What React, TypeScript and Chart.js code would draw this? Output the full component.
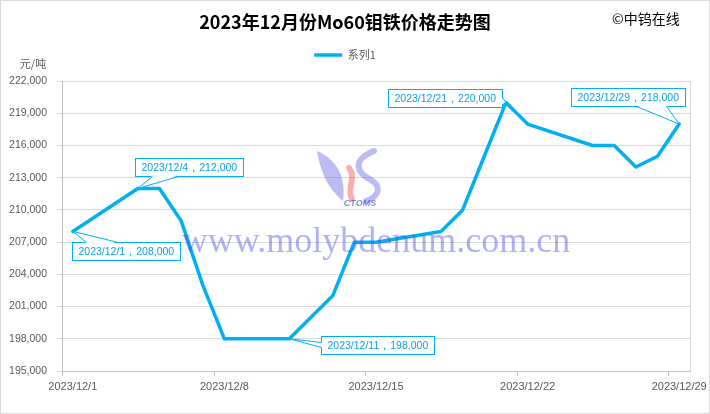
import React, { useEffect, useRef } from 'react';
import { Chart, registerables, layouts } from 'chart.js';

Chart.register(...registerables);

// ---- data ----
const dates = [
  '2023/12/1', '2023/12/4', '2023/12/5', '2023/12/6', '2023/12/7', '2023/12/8',
  '2023/12/11', '2023/12/12', '2023/12/13', '2023/12/14', '2023/12/15',
  '2023/12/18', '2023/12/19', '2023/12/20', '2023/12/21', '2023/12/22',
  '2023/12/25', '2023/12/26', '2023/12/27', '2023/12/28', '2023/12/29',
];
const prices = [
  208000, 212000, 212000, 209000, 203000, 198000,
  198000, 200000, 202000, 207000, 207000,
  208000, 210000, 215000, 220000, 218000,
  216000, 216000, 214000, 215000, 218000,
];
const seriesName = '系列1';
const xTickDays = [1, 8, 15, 22, 29];
const yMin = 195000;
const yMax = 222000;
const yStep = 3000;
const titleText = '2023年12月份Mo60钼铁价格走势图';
const copyrightText = '©中钨在线';
const unitText = '元/吨';
const watermarkText = 'www.molybdenum.com.cn';
const labelledDates = ['2023/12/1', '2023/12/4', '2023/12/11', '2023/12/21', '2023/12/29'];

// callout placement relative to the data point (layout only)
const calloutLayout: Record<string, { dx: number; dy: number; tail: string; b0: number; b1: number }> = {
  '2023/12/1': { dx: -1, dy: 11, tail: 'top', b0: 14, b1: 46 },
  '2023/12/4': { dx: -3, dy: -30, tail: 'bottom', b0: 17, b1: 43 },
  '2023/12/11': { dx: 32, dy: -3, tail: 'left', b0: 6, b1: 11 },
  '2023/12/21': { dx: -118, dy: -14, tail: 'right', b0: 8, b1: 15 },
  '2023/12/29': { dx: -108, dy: -36, tail: 'bottom', b0: 65, b1: 95 },
};

const dayOf = (d: string) => parseInt(d.split('/')[2], 10);
const fmt = (v: number) => v.toLocaleString('en-US');

const LINE_COLOR = '#00b0f0';
const LABEL_FONT = "'Liberation Sans', Arial, sans-serif";
const CJK_FONT = "'Noto Sans CJK SC', 'Noto Sans', sans-serif";

// empty layout box that keeps a gap between the legend and the plot area
const spacerPlugin = {
  id: 'legendSpacer',
  beforeInit(chart: any) {
    const box: any = {
      position: 'top',
      weight: 0,
      fullSize: true,
      options: {},
      left: 0, top: 0, right: 0, bottom: 0, width: 0, height: 0,
      isHorizontal() { return true; },
      update(maxWidth: number) {
        this.width = maxWidth;
        this.height = 10.5;
        this.left = 0;
        this.right = maxWidth;
      },
      draw() {},
    };
    layouts.addBox(chart, box);
  },
};

const decorPlugin = {
  id: 'decor',
  beforeDraw(chart: any) {
    const { ctx, width, height } = chart;
    ctx.save();
    ctx.fillStyle = '#ffffff';
    ctx.fillRect(0, 0, width, height);
    ctx.restore();
  },
  beforeDatasetsDraw(chart: any) {
    const { ctx, chartArea } = chart;
    const xs = chart.scales.x;
    ctx.save();
    ctx.strokeStyle = '#d9d9d9';
    ctx.lineWidth = 1;
    ctx.beginPath();
    ctx.moveTo(Math.round(chartArea.right) + 0.5, chartArea.top);
    ctx.lineTo(Math.round(chartArea.right) + 0.5, chartArea.bottom);
    ctx.stroke();
    // x tick marks sit on the boundaries between date slots
    ctx.strokeStyle = '#bfbfbf';
    ctx.beginPath();
    xTickDays.forEach((d) => {
      const x = Math.round(xs.getPixelForValue(d - 0.5)) + 0.5;
      ctx.moveTo(x, chartArea.bottom);
      ctx.lineTo(x, chartArea.bottom + 5);
    });
    ctx.stroke();
    ctx.restore();
  },
  afterDatasetsDraw(chart: any) {
    const { ctx } = chart;
    ctx.save();
    // logo
    ctx.fillStyle = 'rgba(95,95,225,0.42)';
    ctx.beginPath();
    ctx.moveTo(317, 151);
    ctx.bezierCurveTo(338, 160, 346, 178, 343, 201);
    ctx.bezierCurveTo(330, 190, 322, 178, 317, 151);
    ctx.closePath();
    ctx.fill();
    ctx.strokeStyle = 'rgba(95,95,225,0.42)';
    ctx.lineWidth = 6;
    ctx.lineCap = 'round';
    ctx.beginPath();
    ctx.moveTo(374, 151);
    ctx.bezierCurveTo(352, 160, 356, 172, 371, 180);
    ctx.bezierCurveTo(383, 187, 378, 197, 366, 201);
    ctx.stroke();
    ctx.strokeStyle = 'rgba(240,110,110,0.55)';
    ctx.lineWidth = 6;
    ctx.beginPath();
    ctx.moveTo(349, 168);
    ctx.bezierCurveTo(357, 178, 346, 188, 352, 199);
    ctx.stroke();
    ctx.fillStyle = 'rgba(70,90,220,0.7)';
    ctx.font = `italic bold 9px ${LABEL_FONT}`;
    ctx.textAlign = 'center';
    ctx.textBaseline = 'middle';
    ctx.fillText('CTOMS', 360, 204);
    // watermark text
    ctx.fillStyle = 'rgba(80,80,230,0.45)';
    ctx.font = `36px 'Liberation Serif', 'DejaVu Serif', serif`;
    ctx.textAlign = 'center';
    ctx.textBaseline = 'alphabetic';
    ctx.fillText(watermarkText, 376, 252);
    ctx.restore();
  },
  afterDraw(chart: any) {
    const { ctx, width, height } = chart;
    ctx.save();
    ctx.fillStyle = '#000000';
    ctx.font = `14px ${CJK_FONT}`;
    ctx.textAlign = 'left';
    ctx.textBaseline = 'middle';
    ctx.fillText(copyrightText, 612, 19);
    ctx.fillStyle = '#595959';
    ctx.font = `11px ${CJK_FONT}`;
    ctx.textAlign = 'center';
    ctx.fillText(unitText, 33, 64);
    ctx.strokeStyle = '#d9d9d9';
    ctx.lineWidth = 1;
    ctx.strokeRect(0.5, 0.5, width - 1, height - 1);
    ctx.restore();
  },
};

const calloutPlugin = {
  id: 'callouts',
  afterDatasetsDraw(chart: any) {
    const { ctx } = chart;
    const xs = chart.scales.x;
    const ys = chart.scales.y;
    ctx.save();
    ctx.font = `10.5px ${LABEL_FONT}`;
    labelledDates.forEach((d) => {
      const i = dates.indexOf(d);
      const lay = calloutLayout[d];
      if (i < 0 || !lay) return;
      const px = xs.getPixelForValue(dayOf(d));
      const py = ys.getPixelForValue(prices[i]);
      const text = `${dates[i]}，${fmt(prices[i])}`;
      const w = Math.round(ctx.measureText(text).width + 12);
      const h = 18;
      const bx = Math.round(px + lay.dx) + 0.5;
      const by = Math.round(py + lay.dy) + 0.5;
      let p0: number[];
      let p1: number[];
      let q0: number[];
      let q1: number[];
      if (lay.tail === 'top') {
        p0 = [bx + lay.b0, by]; p1 = [bx + lay.b1, by];
        q0 = [bx + lay.b0, by + 1]; q1 = [bx + lay.b1, by + 1];
      } else if (lay.tail === 'bottom') {
        p0 = [bx + lay.b0, by + h]; p1 = [bx + lay.b1, by + h];
        q0 = [bx + lay.b0, by + h - 1]; q1 = [bx + lay.b1, by + h - 1];
      } else if (lay.tail === 'left') {
        p0 = [bx, by + lay.b0]; p1 = [bx, by + lay.b1];
        q0 = [bx + 1, by + lay.b0]; q1 = [bx + 1, by + lay.b1];
      } else {
        p0 = [bx + w, by + lay.b0]; p1 = [bx + w, by + lay.b1];
        q0 = [bx + w - 1, by + lay.b0]; q1 = [bx + w - 1, by + lay.b1];
      }
      ctx.fillStyle = '#ffffff';
      ctx.strokeStyle = LINE_COLOR;
      ctx.lineWidth = 1;
      ctx.fillRect(bx, by, w, h);
      ctx.strokeRect(bx, by, w, h);
      ctx.beginPath();
      ctx.moveTo(q0[0], q0[1]);
      ctx.lineTo(px, py);
      ctx.lineTo(q1[0], q1[1]);
      ctx.closePath();
      ctx.fill();
      ctx.beginPath();
      ctx.moveTo(p0[0], p0[1]);
      ctx.lineTo(px, py);
      ctx.lineTo(p1[0], p1[1]);
      ctx.stroke();
      ctx.fillStyle = '#0aa2e2';
      ctx.textAlign = 'left';
      ctx.textBaseline = 'middle';
      ctx.fillText(text, bx + 6, by + h / 2 + 0.5);
    });
    ctx.restore();
  },
};

export default function App() {
  const ref = useRef<HTMLCanvasElement>(null);
  useEffect(() => {
    document.body.style.margin = '0';
    const canvas = ref.current;
    if (!canvas) return;
    Chart.defaults.font.family = LABEL_FONT;
    const chart = new Chart(canvas, {
      type: 'line',
      data: {
        datasets: [
          {
            label: seriesName,
            data: dates.map((d, i) => ({ x: dayOf(d), y: prices[i] })),
            borderColor: LINE_COLOR,
            backgroundColor: LINE_COLOR,
            borderWidth: 3.5,
            pointRadius: 0,
            pointHoverRadius: 0,
            tension: 0,
            borderJoinStyle: 'round',
            borderCapStyle: 'round',
            fill: false,
          },
        ],
      },
      options: {
        responsive: false,
        animation: false,
        events: [],
        layout: { padding: { left: 0, right: 20, top: 0, bottom: 0 } },
        plugins: {
          title: {
            display: true,
            text: titleText,
            color: '#000000',
            font: { family: CJK_FONT, size: 18, weight: 'bold' },
            padding: { top: 11, bottom: 0 },
          },
          legend: {
            display: true,
            position: 'top',
            labels: {
              usePointStyle: true,
              pointStyle: 'line',
              pointStyleWidth: 28,
              boxHeight: 3,
              padding: 17,
              color: '#595959',
              font: { family: CJK_FONT, size: 11 },
            },
          },
          tooltip: { enabled: false },
        },
        scales: {
          x: {
            type: 'linear',
            min: 0.5,
            max: 29.5,
            afterBuildTicks: (scale: any) => {
              scale.ticks = xTickDays.map((v) => ({ value: v }));
            },
            afterFit: (scale: any) => {
              scale.height = 43;
              scale.paddingLeft = 0;
              scale.paddingRight = 0;
            },
            ticks: {
              autoSkip: false,
              maxRotation: 0,
              minRotation: 0,
              padding: 9,
              color: '#595959',
              font: { size: 11 },
              callback: (v: any) => `2023/12/${v}`,
            },
            grid: { display: false, drawTicks: false },
            border: { display: true, color: '#bfbfbf' },
          },
          y: {
            min: yMin,
            max: yMax,
            afterFit: (scale: any) => {
              scale.width = 62;
            },
            ticks: {
              stepSize: yStep,
              padding: 10,
              color: '#595959',
              font: { size: 10.5 },
              callback: (v: any) => fmt(Number(v)),
            },
            grid: { color: '#d9d9d9', tickLength: 5, drawTicks: true },
            border: { display: true, color: '#bfbfbf' },
          },
        },
      },
      plugins: [spacerPlugin, decorPlugin, calloutPlugin],
    } as any);
    return () => chart.destroy();
  }, []);
  return (
    <div style={{ width: 710, height: 414, position: 'relative' }}>
      <canvas ref={ref} width={710} height={414} style={{ display: 'block' }} />
    </div>
  );
}
